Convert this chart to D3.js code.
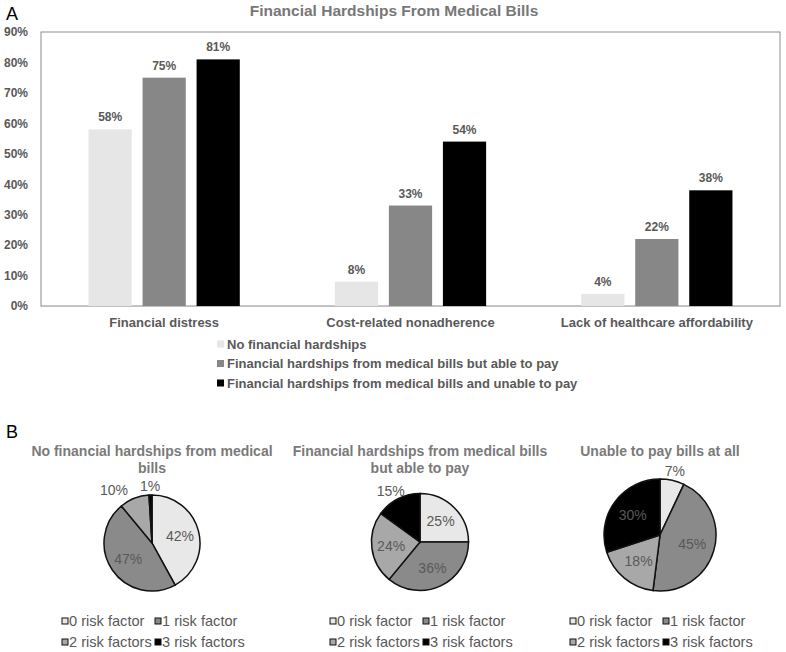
<!DOCTYPE html>
<html><head><meta charset="utf-8">
<script src="https://cdn.jsdelivr.net/npm/d3@7/dist/d3.min.js"></script>
<style>body{margin:0;background:#fff}svg{display:block;font-family:"Liberation Sans",Arial,sans-serif}</style>
</head><body><svg id="c" width="786" height="652"></svg>
<script>
// ---- data ----
const categories = ["Financial distress", "Cost-related nonadherence", "Lack of healthcare affordability"];
const seriesNames = ["No financial hardships", "Financial hardships from medical bills but able to pay", "Financial hardships from medical bills and unable to pay"];
const noHardship = [58, 8, 4];
const ableToPay = [75, 33, 22];
const unableToPay = [81, 54, 38];
const yTicks = [0, 10, 20, 30, 40, 50, 60, 70, 80, 90];
const barTitle = "Financial Hardships From Medical Bills";

const riskLabels = ["0 risk factor", "1 risk factor", "2 risk factors", "3 risk factors"];
const pieTitles = [["No financial hardships from medical", "bills"], ["Financial hardships from medical bills", "but able to pay"], ["Unable to pay bills at all"]];
const pieNoHardship = [42, 47, 10, 1];
const pieAbleToPay = [25, 36, 24, 15];
const pieUnable = [7, 45, 18, 30];

// ---- styles ----
const barColors = ["#e6e6e6", "#878787", "#000000"];
const pieColors = ["#e8e8e8", "#8a8a8a", "#a8a8a8", "#000000"];
const dark = "#595959";

const svg = d3.select("#c");

// panel letters
svg.append("text").attr("x", 6).attr("y", 20).attr("font-size", 18).attr("fill", "#000").text("A");
svg.append("text").attr("x", 6).attr("y", 438).attr("font-size", 18).attr("fill", "#000").text("B");

// ---- bar chart ----
const L = 41, R = 780, T = 32, B = 306;
svg.append("text").attr("x", 394).attr("y", 15.5).attr("text-anchor", "middle")
  .attr("font-size", 15.5).attr("font-weight", "bold").attr("fill", "#777").text(barTitle);

const y = d3.scaleLinear().domain([0, 90]).range([B, T]);
const x0 = d3.scaleBand().domain(categories).range([L, R]);
const x1 = d3.scaleBand().domain(seriesNames).range([0, x0.bandwidth()]).paddingInner(0.2).paddingOuter(0.88);

svg.append("rect").attr("x", L).attr("y", T).attr("width", R - L).attr("height", B - T)
  .attr("fill", "none").attr("stroke", "#8c8c8c").attr("stroke-width", 1);

const yAxis = svg.append("g").attr("transform", `translate(${L},0)`)
  .call(d3.axisLeft(y).tickValues(yTicks).tickFormat(d => d + "%").tickSize(0).tickPadding(13));
yAxis.select(".domain").remove();
yAxis.selectAll("text").attr("font-size", 12).attr("font-weight", "bold").attr("fill", dark)
  .attr("font-family", '"Liberation Sans",Arial,sans-serif');

const xAxis = svg.append("g").attr("transform", `translate(0,${B})`)
  .call(d3.axisBottom(x0).tickSize(0).tickPadding(12));
xAxis.select(".domain").attr("stroke", "#bfbfbf");
xAxis.selectAll("text").attr("font-size", 13).attr("font-weight", "bold").attr("fill", dark)
  .attr("font-family", '"Liberation Sans",Arial,sans-serif');

const seriesVals = [noHardship, ableToPay, unableToPay];
const barData = [];
categories.forEach((c, i) => seriesNames.forEach((s, j) => barData.push({ c, s, j, v: seriesVals[j][i] })));

const bars = svg.append("g");
bars.selectAll("rect").data(barData).join("rect")
  .attr("x", d => x0(d.c) + x1(d.s)).attr("width", x1.bandwidth())
  .attr("y", d => y(d.v)).attr("height", d => B - y(d.v))
  .attr("fill", d => barColors[d.j]);
bars.selectAll("text").data(barData).join("text")
  .attr("x", d => x0(d.c) + x1(d.s) + x1.bandwidth() / 2).attr("y", d => y(d.v) - 8)
  .attr("text-anchor", "middle").attr("font-size", 12).attr("font-weight", "bold").attr("fill", dark)
  .text(d => d.v + "%");

const leg = svg.append("g").attr("transform", "translate(217,0)");
seriesNames.forEach((s, j) => {
  const yy = 344 + j * 19.5;
  leg.append("rect").attr("x", 0).attr("y", yy - 3.5).attr("width", 7).attr("height", 7).attr("fill", barColors[j]);
  leg.append("text").attr("x", 10).attr("y", yy + 4.5).attr("font-size", 13).attr("font-weight", "bold")
    .attr("fill", dark).text(s);
});

// ---- pies ----
const pies = [
  { vals: pieNoHardship, cx: 152, cy: 543, r: 48, title: pieTitles[0] },
  { vals: pieAbleToPay, cx: 420, cy: 542, r: 48.5, title: pieTitles[1] },
  { vals: pieUnable, cx: 660, cy: 535, r: 56, title: pieTitles[2] }
];
const pieGen = d3.pie().sort(null).value(d => d);

pies.forEach(p => {
  const g = svg.append("g");
  p.title.forEach((t, k) => {
    g.append("text").attr("x", p.cx).attr("y", 456 + k * 17).attr("text-anchor", "middle")
      .attr("font-size", 14).attr("font-weight", "bold").attr("fill", "#7a7a7a").text(t);
  });
  const arcs = pieGen(p.vals);
  const arc = d3.arc().innerRadius(0).outerRadius(p.r);
  const pg = g.append("g").attr("transform", `translate(${p.cx},${p.cy})`);
  pg.selectAll("path").data(arcs).join("path").attr("d", arc)
    .attr("fill", (d, i) => pieColors[i]).attr("stroke", "#111").attr("stroke-width", 1.5);
  const labels = pg.selectAll("text").data(arcs).join("text")
    .attr("text-anchor", "middle").attr("dy", "0.35em").attr("font-size", 14).attr("fill", dark)
    .text(d => d.data + "%");
  // positions: inside for large slices, outside-end (box offset outward) for small ones
  const pos = [];
  labels.each(function (d) {
    const a = (d.startAngle + d.endAngle) / 2;
    const dx = Math.sin(a), dy = -Math.cos(a);
    const w = this.getComputedTextLength();
    if (d.data < 16) {
      pos.push({ el: this, out: true, w, x: dx * (p.r + 2) + dx * w / 2, y: dy * (p.r + 2) + dy * 7 });
    } else {
      pos.push({ el: this, out: false, w, x: dx * p.r * 0.6, y: dy * p.r * 0.6 });
    }
  });
  // resolve overlaps between outside labels by pushing the left one further left
  const outs = pos.filter(o => o.out).sort((a, b) => b.x - a.x);
  for (let i = 1; i < outs.length; i++) {
    const rgt = outs[i - 1], lft = outs[i];
    if (Math.abs(rgt.y - lft.y) < 14) {
      const need = (rgt.x - rgt.w / 2) - 12 - (lft.x + lft.w / 2);
      if (need < 0) lft.x += need;
    }
  }
  pos.forEach(o => d3.select(o.el).attr("transform", `translate(${o.x},${o.y})`));
  // legend
  riskLabels.forEach((lab, i) => {
    const lx = p.cx + (i % 2 === 0 ? -90 : 3);
    const ly = 621 + Math.floor(i / 2) * 21;
    g.append("rect").attr("x", lx).attr("y", ly - 3).attr("width", 6).attr("height", 6)
      .attr("fill", pieColors[i]).attr("stroke", "#111").attr("stroke-width", 1);
    g.append("text").attr("x", lx + 7).attr("y", ly + 5).attr("font-size", 14.6).attr("fill", dark).text(lab);
  });
});
</script></body></html>
